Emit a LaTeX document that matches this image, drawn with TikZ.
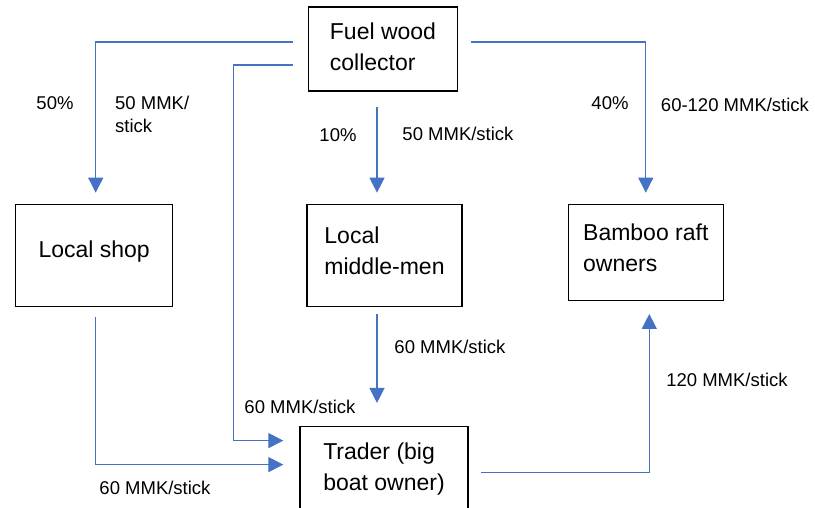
\documentclass[tikz,border=0pt]{standalone}
\usepackage{fontspec}
\setmainfont{Liberation Sans}
\usetikzlibrary{
  arrows.meta,
  positioning
}
\definecolor{FlowBlue}{RGB}{68,114,196}

\begin{document}
\begin{tikzpicture}[
  x=1pt, y=-1pt,
  box/.style={rectangle, draw=black, line width=1.3pt, align=left,
              font=\fontsize{23}{31}\selectfont, inner sep=0pt},
  arr/.style={-{Triangle[length=15pt, width=15pt]}, line width=1.2pt, color=FlowBlue},
  lbl/.style={font=\fontsize{18.5}{23}\selectfont, align=left, inner sep=0pt}
]
\useasboundingbox (0,0) rectangle (815,507);
\clip (0,0) rectangle (815,507);

\node[box, minimum width=149pt, minimum height=84pt,
      text depth=4pt] (fuel) at (383,49)
      {Fuel wood\\collector};

\node[box, minimum width=155pt, minimum height=102pt,
      text depth=10pt,
      below=112pt of fuel, xshift=1.5pt]            (mid)
      {Local\\middle-men};

\node[box, minimum width=157pt, minimum height=102pt,
      text depth=13pt,
      left=133pt of mid]                             (shop)
      {Local shop};

\node[box, minimum width=155pt, minimum height=96pt,
      text depth=10pt,
      right=105pt of mid, yshift=3pt]               (raft)
      {Bamboo raft\\owners};

\node[box, minimum width=168pt, minimum height=88pt,
      text depth=8pt,
      below=119pt of mid, xshift=-0.5pt]            (trader)
      {Trader (big\\boat owner)};

% connectors
\draw[arr, shorten <=15pt, shorten >=11pt]
      ([yshift=7pt]fuel.west) -| ([xshift=1.5pt]shop.north);
\draw[arr, shorten <=15pt, shorten >=16pt]
      ([yshift=-16pt]fuel.west) -- ++(-74,0) |- ([yshift=30pt]trader.west);
\draw[arr, shorten <=15pt, shorten >=11pt]
      ([xshift=-6pt]fuel.south) -- ([xshift=-7.5pt]mid.north);
\draw[arr, shorten <=13pt, shorten >=11pt]
      ([yshift=7pt]fuel.east) -| (raft.north);
\draw[arr, shorten <=10pt, shorten >=16pt]
      ([xshift=1.5pt]shop.south) |- ([yshift=6pt]trader.west);
\draw[arr, shorten <=7pt, shorten >=23pt]
      ([xshift=-7.5pt]mid.south) -- ([xshift=-7pt]trader.north);
\draw[arr, shorten <=12pt, shorten >=13pt]
      ([yshift=-2pt]trader.east) -| ([xshift=3.5pt]raft.south);

% labels
\node[lbl] (pshop)  at (55,103)  {50\%};
\node[lbl, anchor=west] (cshop) at (115,114) {50 MMK/\\stick};
\node[lbl] (pmid)   at (338,135) {10\%};
\node[lbl] (cmid)   at (458,134) {50 MMK/stick};
\node[lbl] (praft)  at (610,103) {40\%};
\node[lbl] (craft)  at (735,105) {60-120 MMK/stick};
\node[lbl] (cmidtr) at (450,347) {60 MMK/stick};
\node[lbl] (ctrraft) at (727,380) {120 MMK/stick};
\node[lbl] (cfueltr) at (300,407) {60 MMK/stick};
\node[lbl] (cshoptr) at (155,488) {60 MMK/stick};

\end{tikzpicture}
\end{document}
